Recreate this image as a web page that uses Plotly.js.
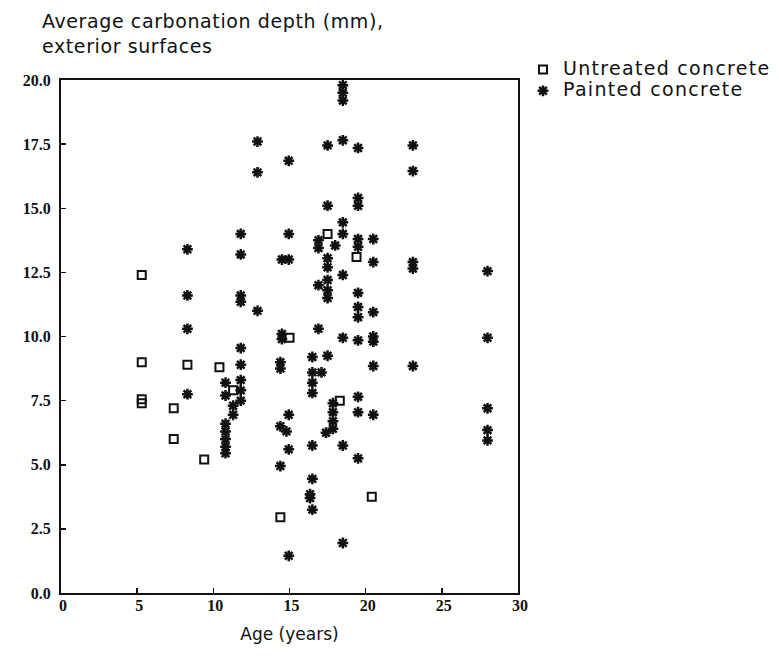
<!DOCTYPE html>
<html>
<head>
<meta charset="utf-8">
<script src="https://cdn.plot.ly/plotly-3.0.1.min.js"></script>
<style>
html,body{margin:0;padding:0;background:#fff;}
#chart{width:779px;height:666px;}
.legendtext{letter-spacing:1.3px; font-size:19px !important;}
.annotation-text{letter-spacing:0.6px;}
</style>
</head>
<body>
<div id="chart"></div>
<script>
// Untreated concrete (age in years, carbonation depth in mm)
const untreatedAge = [5.3, 5.3, 5.3, 5.3, 7.4, 7.4, 8.3, 9.4, 10.4, 11.3, 14.4, 15.0, 17.5, 19.4, 18.3, 20.4];
const untreatedDepth = [12.4, 9.0, 7.55, 7.4, 7.2, 6.0, 8.9, 5.2, 8.8, 7.9, 2.95, 9.95, 14.0, 13.1, 7.5, 3.75];

// Painted concrete
const paintedAge = [
  8.3, 8.3, 8.3, 8.3,
  10.8, 10.8, 10.8, 10.8, 10.8, 10.8, 10.8,
  11.3, 11.3,
  11.8, 11.8, 11.8, 11.8, 11.8, 11.8, 11.8, 11.8, 11.8,
  12.9, 12.9, 12.9,
  14.4, 14.4, 14.4, 14.4,
  14.5, 14.5, 14.5,
  14.8,
  14.95, 14.95, 14.95, 14.95, 14.95, 14.95,
  16.5, 16.5, 16.5, 16.5, 16.5, 16.5, 16.5,
  16.35, 16.35,
  16.9, 16.9, 16.9, 16.9,
  17.1,
  17.4,
  17.5, 17.5, 17.5, 17.5, 17.5, 17.5, 17.5, 17.5,
  17.85, 17.85, 17.85, 17.85,
  18.0,
  18.5, 18.5, 18.5, 18.5, 18.5, 18.5, 18.5, 18.5, 18.5, 18.5,
  19.5, 19.5, 19.5, 19.5, 19.5, 19.5, 19.5, 19.5, 19.5, 19.5, 19.5, 19.5,
  20.5, 20.5, 20.5, 20.5, 20.5, 20.5, 20.5,
  23.1, 23.1, 23.1, 23.1, 23.1,
  28.0, 28.0, 28.0, 28.0, 28.0
];
const paintedDepth = [
  13.4, 11.6, 10.3, 7.75,
  8.2, 7.7, 6.6, 6.3, 6.0, 5.7, 5.45,
  7.3, 6.95,
  14.0, 13.2, 11.6, 11.35, 9.55, 8.9, 8.3, 7.9, 7.5,
  17.6, 16.4, 11.0,
  9.0, 8.75, 6.5, 4.95,
  13.0, 10.1, 9.9,
  6.3,
  16.85, 14.0, 13.0, 6.95, 5.6, 1.45,
  9.2, 7.8, 5.75, 4.45, 3.25, 8.6, 8.2,
  3.85, 3.7,
  13.75, 13.45, 12.0, 10.3,
  8.6,
  6.25,
  17.45, 15.1, 13.05, 12.7, 12.2, 11.8, 11.5, 9.25,
  7.4, 7.05, 6.7, 6.4,
  13.55,
  19.8, 19.5, 19.2, 17.65, 14.45, 14.0, 12.4, 9.95, 5.75, 1.95,
  17.35, 15.4, 15.1, 13.8, 13.5, 11.7, 11.15, 10.75, 9.85, 7.65, 7.05, 5.25,
  13.8, 12.9, 10.95, 10.0, 9.8, 8.85, 6.95,
  17.45, 16.45, 12.9, 12.65, 8.85,
  12.55, 9.95, 7.2, 6.35, 5.95
];

const xTicks = [0, 5, 10, 15, 20, 25, 30];
const yTicks = [0, 2.5, 5, 7.5, 10, 12.5, 15, 17.5, 20];

const textFont = "DejaVu Sans, sans-serif";
const tickFont = {family: "Liberation Serif, serif", size: 16, color: "#111", weight: "bold"};

const traces = [
  {
    x: untreatedAge, y: untreatedDepth, type: "scatter", mode: "markers",
    name: "Untreated concrete",
    marker: {symbol: "square-open", size: 8, color: "#111", line: {width: 2, color: "#111"}},
    cliponaxis: false
  },
  {
    x: paintedAge, y: paintedDepth, type: "scatter", mode: "markers",
    name: "Painted concrete",
    marker: {symbol: "asterisk-open", size: 9, color: "#111", line: {width: 2.5, color: "#111"}},
    cliponaxis: false
  }
];

const layout = {
  width: 779, height: 666,
  margin: {l: 61, r: 261, t: 80, b: 73, autoexpand: false},
  paper_bgcolor: "#fff", plot_bgcolor: "#fff",
  showlegend: true,
  annotations: [{
    text: "Average carbonation depth (mm),<br>exterior surfaces",
    xref: "paper", yref: "paper",
    x: (40 - 61) / 457, xanchor: "left",
    y: (593 - 8) / 513, yanchor: "top",
    align: "left", showarrow: false,
    font: {family: textFont, size: 19, color: "#111"}
  }],
  xaxis: {
    range: [0, 30], tickmode: "array", tickvals: xTicks,
    ticktext: xTicks.map(String),
    ticks: "inside", ticklen: 5, tickwidth: 1.5, tickcolor: "#111",
    showline: true, linewidth: 2, linecolor: "#111", mirror: true,
    showgrid: false, zeroline: false,
    ticklabelstandoff: -3, ticklabelshift: 2,
    tickfont: tickFont,
    title: {text: "Age (years)", font: {family: textFont, size: 17, color: "#111"}, standoff: 15}
  },
  yaxis: {
    range: [0, 20], tickmode: "array", tickvals: yTicks,
    ticktext: yTicks.map(v => v.toFixed(1)),
    ticks: "inside", ticklen: 5, tickwidth: 1.5, tickcolor: "#111",
    showline: true, linewidth: 2, linecolor: "#111", mirror: true,
    showgrid: false, zeroline: false,
    ticklabelstandoff: 5,
    tickfont: tickFont
  },
  legend: {
    x: (523 - 61) / 457, xanchor: "left", y: (593 - 54) / 513, yanchor: "top",
    font: {family: textFont, size: 14, color: "#111"},
    itemwidth: 30, tracegroupgap: 0, bgcolor: "rgba(0,0,0,0)"
  }
};

Plotly.newPlot("chart", traces, layout, {displayModeBar: false, staticPlot: true});
</script>
</body>
</html>
